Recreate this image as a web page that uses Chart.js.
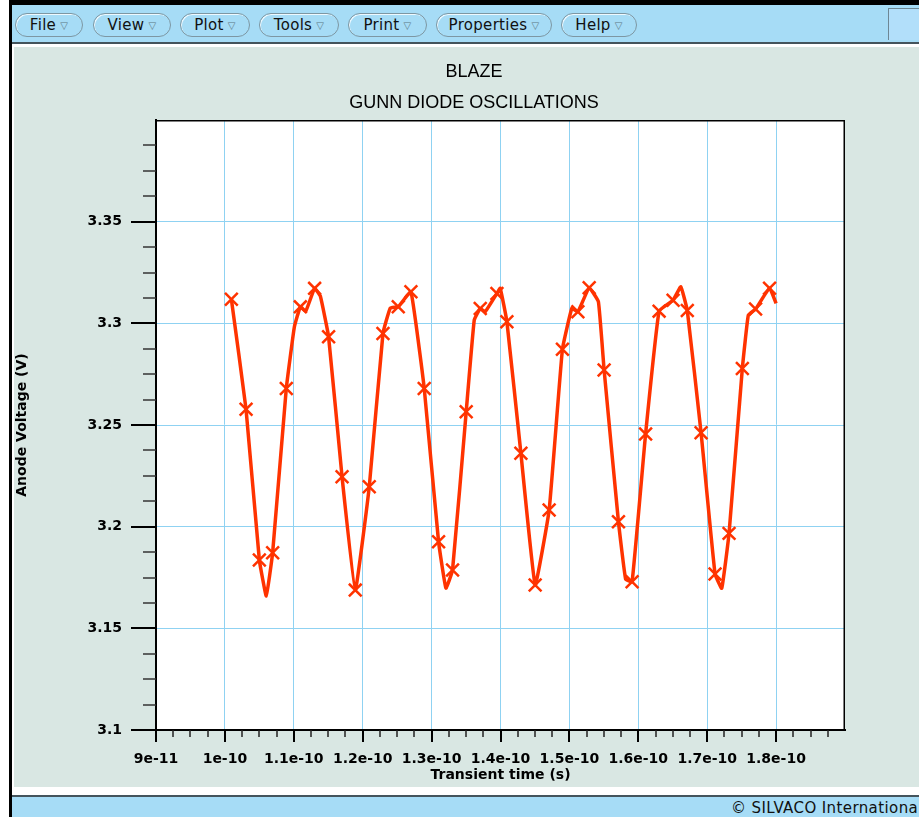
<!DOCTYPE html>
<html>
<head>
<meta charset="utf-8">
<title>BLAZE - Gunn diode oscillations</title>
<script src="https://cdn.jsdelivr.net/npm/chart.js@4.4.1/dist/chart.umd.min.js"></script>
<style>
  html, body { margin: 0; padding: 0; background: #fff; width: 919px; height: 817px; overflow: hidden; font-family: "DejaVu Sans", sans-serif; }
  .blk { position: absolute; background: #000; }
  #menubar { position: absolute; left: 12px; top: 5px; width: 907px; height: 37px; background: #a6dcf6; border-bottom: 2px solid #44545c; }
  .menu { position: absolute; top: 8px; height: 22px; border: 1px solid #7d97a3; border-radius: 12px; box-shadow: inset 1px 1px 0 #eef9ff; font-size: 15px; line-height: 22px; color: #111; text-align: center; letter-spacing: 0.3px; white-space: nowrap; }
  .menu .arr { font-size: 10px; color: #5d7884; margin-left: 4px; position: relative; top: -1px; }
  #corner { position: absolute; left: 876px; top: 3px; width: 31px; height: 31px; background: #b2dffa; border-left: 1px solid #6d8794; border-top: 1px solid #6d8794; }
  #panel { position: absolute; left: 14px; top: 47px; width: 905px; height: 740px; background: #d9e7e3; }
  #status { position: absolute; left: 12px; top: 795px; width: 907px; height: 20px; background: #a6dcf6; border-top: 2px solid #44545c; }
  #status span { position: absolute; left: 719px; top: 0; line-height: 22px; font-size: 15px; letter-spacing: 0.4px; color: #111; white-space: nowrap; }
</style>
</head>
<body>
<div class="blk" style="left:9px; top:0; width:910px; height:5px;"></div>
<div class="blk" style="left:9px; top:0; width:3px; height:817px;"></div>
<div id="menubar">
  <div class="menu" style="left:3px; width:66px;">File<span class="arr">▽</span></div>
  <div class="menu" style="left:81px; width:76px;">View<span class="arr">▽</span></div>
  <div class="menu" style="left:168px; width:68px;">Plot<span class="arr">▽</span></div>
  <div class="menu" style="left:247px; width:78px;">Tools<span class="arr">▽</span></div>
  <div class="menu" style="left:336px; width:77px;">Print<span class="arr">▽</span></div>
  <div class="menu" style="left:424px; width:114px;">Properties<span class="arr">▽</span></div>
  <div class="menu" style="left:549px; width:74px;">Help<span class="arr">▽</span></div>
  <div id="corner"></div>
</div>
<div id="panel"><canvas id="gunn" width="905" height="740"></canvas></div>
<div id="status"><span>© SILVACO International</span></div>

<script>
// transient anode voltage of the Gunn diode: time (s) / voltage (V)
const timeS = [
  1.0094e-10, 1.0307e-10, 1.050e-10, 1.0601e-10, 1.0693e-10, 1.0891e-10, 1.1008e-10, 1.1095e-10,
  1.1174e-10, 1.1302e-10, 1.1385e-10, 1.1505e-10, 1.170e-10, 1.1892e-10, 1.2095e-10, 1.2294e-10,
  1.240e-10, 1.2516e-10, 1.270e-10, 1.2893e-10, 1.3101e-10, 1.3208e-10, 1.3304e-10, 1.3502e-10,
  1.3619e-10, 1.3706e-10, 1.3778e-10, 1.3948e-10, 1.3996e-10, 1.4093e-10, 1.4296e-10, 1.4503e-10,
  1.4706e-10, 1.4899e-10, 1.5036e-10, 1.5123e-10, 1.5287e-10, 1.5421e-10, 1.5504e-10, 1.5712e-10,
  1.5816e-10, 1.591e-10, 1.6106e-10, 1.6302e-10, 1.6505e-10, 1.6617e-10, 1.6711e-10, 1.6911e-10,
  1.7114e-10, 1.7211e-10, 1.7317e-10, 1.751e-10, 1.7597e-10, 1.7702e-10, 1.7905e-10, 1.80e-10
];
const anodeV = [
  3.3118, 3.2577, 3.1836, 3.1659, 3.1872, 3.268, 3.2982, 3.3081,
  3.306, 3.3172, 3.3134, 3.2934, 3.2246, 3.1688, 3.2196, 3.295,
  3.3075, 3.3082, 3.3155, 3.268, 3.1926, 3.1698, 3.1787, 3.2565,
  3.3016, 3.3073, 3.3057, 3.3147, 3.3172, 3.3008, 3.2361, 3.1713,
  3.2082, 3.2873, 3.3074, 3.3057, 3.3175, 3.3106, 3.277, 3.2024,
  3.1742, 3.1729, 3.2456, 3.306, 3.3114, 3.318, 3.3063, 3.2462,
  3.1767, 3.1697, 3.1967, 3.2778, 3.304, 3.307, 3.3173, 3.3098
];
// samples that get an X marker
const markedSamples = [0, 1, 2, 4, 5, 7, 9, 11, 12, 13, 14, 15, 17, 18, 19, 20, 22, 23, 25, 27,
  29, 30, 31, 32, 33, 35, 36, 38, 39, 41, 42, 43, 44, 46, 47, 48, 50, 51, 53, 54];

const xTickVals = [9e-11, 1e-10, 1.1e-10, 1.2e-10, 1.3e-10, 1.4e-10, 1.5e-10, 1.6e-10, 1.7e-10, 1.8e-10];
const xTickLabels = ['9e-11', '1e-10', '1.1e-10', '1.2e-10', '1.3e-10', '1.4e-10', '1.5e-10', '1.6e-10', '1.7e-10', '1.8e-10'];
const yTickVals = [3.1, 3.15, 3.2, 3.25, 3.3, 3.35];
const yTickLabels = ['3.1', '3.15', '3.2', '3.25', '3.3', '3.35'];
const titleLines = ['BLAZE', 'GUNN DIODE OSCILLATIONS'];

const RED = '#ff3300';
const GRID = '#8fd2f2';
const labelFont = { family: 'DejaVu Sans', size: 14, weight: 'bold' };
const marked = new Set(markedSamples);

// white plot area, frame, minor/major tick marks and the two heading lines
const tonyFrame = {
  id: 'tonyFrame',
  beforeDraw(chart) {
    const { ctx, chartArea: a } = chart;
    ctx.save();
    ctx.fillStyle = '#fff';
    ctx.fillRect(a.left, a.top, a.right - a.left, a.bottom - a.top);
    ctx.restore();
  },
  afterDraw(chart) {
    const { ctx, chartArea: a, scales } = chart;
    ctx.save();
    ctx.strokeStyle = '#000';
    ctx.lineWidth = 1.5;
    ctx.beginPath();
    ctx.moveTo(a.left, a.top + 0.75);
    ctx.lineTo(a.right - 0.75, a.top + 0.75);
    ctx.lineTo(a.right - 0.75, a.bottom);
    ctx.stroke();

    // four divisions between labelled ticks, last one at the far edge is left out
    const eachMark = (scale, vals, draw) => {
      const step = (vals[1] - vals[0]) / 4;
      const n = Math.round((scale.max - scale.min) / step);
      for (let i = 0; i < n; i++) draw(Math.round(scale.getPixelForValue(scale.min + i * step)), i % 4 === 0);
    };
    eachMark(scales.x, xTickVals, (px, major) => {
      ctx.lineWidth = major ? 2 : 1.5;
      ctx.strokeStyle = major ? '#000' : '#222';
      ctx.beginPath();
      ctx.moveTo(px, a.bottom);
      ctx.lineTo(px, a.bottom + (major ? 12 : 7));
      ctx.stroke();
    });
    eachMark(scales.y, yTickVals, (py, major) => {
      ctx.lineWidth = major ? 2 : 1.5;
      ctx.strokeStyle = major ? '#000' : '#333';
      ctx.beginPath();
      ctx.moveTo(a.left - (major ? 25 : 13), py);
      ctx.lineTo(a.left, py);
      ctx.stroke();
    });

    ctx.fillStyle = '#000';
    ctx.font = '18px "Liberation Sans"';
    ctx.textAlign = 'center';
    ctx.textBaseline = 'alphabetic';
    titleLines.forEach((t, i) => ctx.fillText(t, 460, 30 + i * 31));
    ctx.restore();
  }
};

new Chart(document.getElementById('gunn'), {
  type: 'line',
  data: {
    datasets: [{
      label: 'Anode Voltage',
      data: timeS.map((t, i) => ({ x: t, y: anodeV[i] })),
      borderColor: RED,
      borderWidth: 3.5,
      tension: 0.1,
      fill: false,
      pointStyle: 'crossRot',
      pointRadius: c => marked.has(c.dataIndex) ? 9 : 0,
      pointBorderWidth: 2.5,
      pointBorderColor: RED,
      pointBackgroundColor: RED
    }]
  },
  options: {
    responsive: false,
    animation: false,
    layout: { padding: { top: 73, right: 74, left: 0, bottom: 0 } },
    plugins: { legend: { display: false }, tooltip: { enabled: false }, title: { display: false } },
    scales: {
      x: {
        type: 'linear',
        min: 9e-11,
        max: 1.9e-10,
        afterBuildTicks: s => { s.ticks = xTickVals.map(v => ({ value: v })); },
        afterFit: s => { s.height = 57; },
        grid: { color: GRID, lineWidth: 1, drawTicks: false },
        border: { color: '#000', width: 2 },
        ticks: { font: labelFont, color: '#000', padding: 21, autoSkip: false, maxRotation: 0,
          callback: (v, i) => xTickLabels[i] },
        title: { display: true, text: 'Transient time (s)', font: labelFont, color: '#000',
          padding: { top: 0, bottom: 3 } }
      },
      y: {
        type: 'linear',
        min: 3.1,
        max: 3.4,
        afterBuildTicks: s => { s.ticks = yTickVals.map(v => ({ value: v })); },
        afterFit: s => { s.width = 142; },
        grid: { color: GRID, lineWidth: 1, drawTicks: false },
        border: { color: '#000', width: 2 },
        ticks: { font: labelFont, color: '#000', padding: 34, autoSkip: false,
          callback: (v, i) => yTickLabels[i] },
        title: { display: true, text: 'Anode Voltage (V)', font: labelFont, color: '#000',
          padding: 0 }
      }
    }
  },
  plugins: [tonyFrame]
});
</script>
</body>
</html>
